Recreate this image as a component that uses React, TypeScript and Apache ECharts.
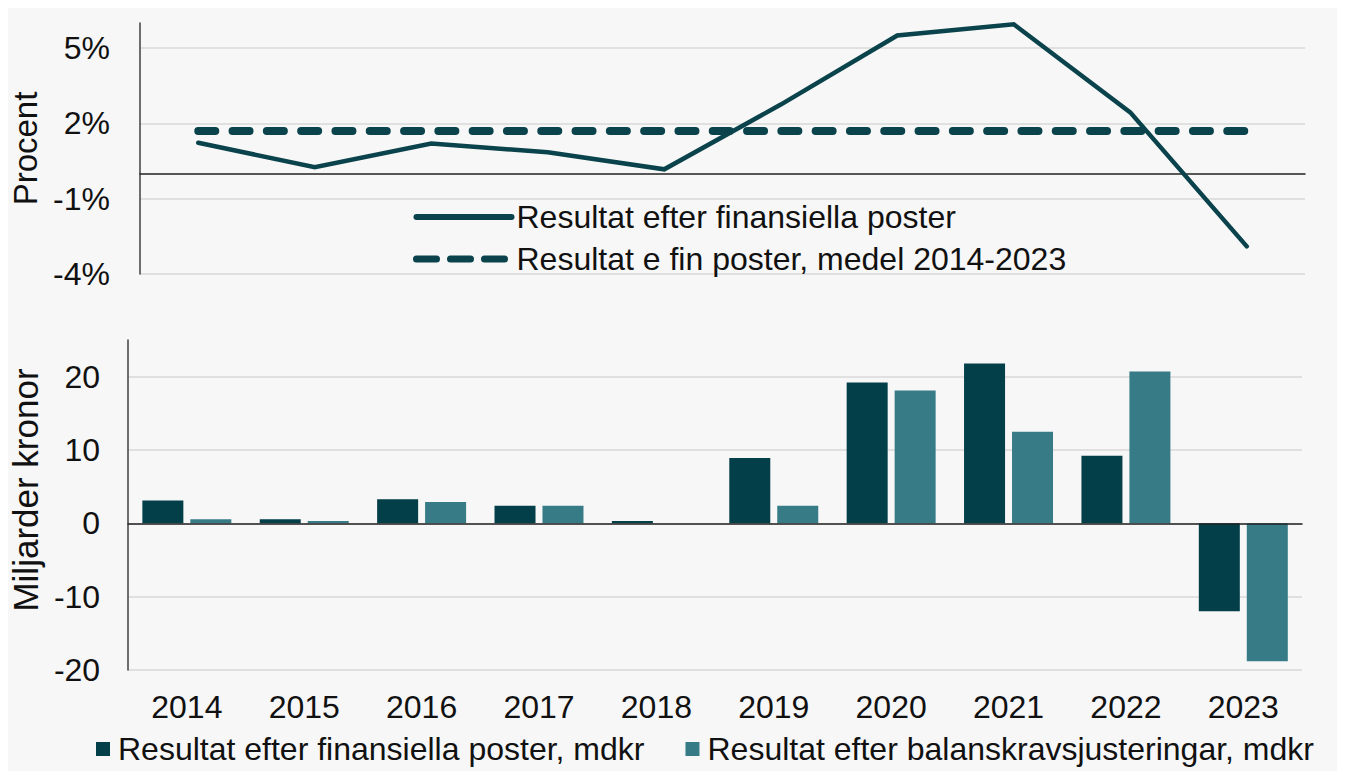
import React, { useEffect, useRef } from "react";
import * as echarts from "echarts";

const years = ["2014", "2015", "2016", "2017", "2018", "2019", "2020", "2021", "2022", "2023"];
const resultPct = [1.23, 0.25, 1.2, 0.85, 0.17, 2.75, 5.5, 5.95, 2.44, -2.9];
const meanPct = [1.7, 1.7, 1.7, 1.7, 1.7, 1.7, 1.7, 1.7, 1.7, 1.7];
const resultMdkr = [3.1, 0.55, 3.3, 2.4, 0.33, 8.9, 19.2, 21.8, 9.2, -12.0];
const balansMdkr = [0.55, 0.33, 2.9, 2.4, 0.0, 2.4, 18.1, 12.5, 20.7, -18.8];
const pctTicks = [-4, -1, 2, 5];
const mdkrTicks = [-20, -10, 0, 10, 20];

const nameLine = "Resultat efter finansiella poster";
const nameMean = "Resultat e fin poster, medel 2014-2023";
const nameBar1 = "Resultat efter finansiella poster, mdkr";
const nameBar2 = "Resultat efter balanskravsjusteringar, mdkr";

const FONT = "'Liberation Sans', Arial, sans-serif";
const FS = 32;
const TXT = "#111111";
const GRID = "#d9d9d9";
const AXIS = "#404040";
const DARK = "#033f48";
const LIGHT = "#367b86";
const LINE = "#0a434b";

export default function App() {
  const ref = useRef<HTMLDivElement>(null);
  useEffect(() => {
    if (!ref.current) return;
    const chart = echarts.init(ref.current, null, { renderer: "svg" });
    chart.setOption({
      animation: false,
      backgroundColor: "#e0efec",
      textStyle: { fontFamily: FONT, color: TXT },
      graphic: [
        {
          type: "rect",
          z: -10,
          shape: { x: 6, y: 5, width: 1339, height: 774 },
          style: { fill: "#f7f7f7" },
        },
      ],
      legend: [
        {
          orient: "vertical",
          left: 413,
          top: 201,
          padding: 0,
          itemWidth: 95,
          itemHeight: 2,
          itemGap: 10,
          textStyle: { fontSize: FS, color: TXT, fontFamily: FONT, lineHeight: 30 },
          data: [
            { name: nameLine, lineStyle: { width: 6, cap: "round" } },
            { name: nameMean, lineStyle: { width: 7, type: [20, 14], cap: "round" } },
          ],
        },
        {
          orient: "horizontal",
          left: 96,
          top: 733,
          padding: 0,
          itemWidth: 14,
          itemHeight: 14,
          itemGap: 41,
          icon: "rect",
          textStyle: { fontSize: FS, color: TXT, fontFamily: FONT, padding: [0, 0, 0, 3] },
          data: [nameBar1, nameBar2],
        },
      ],
      grid: [
        { left: 140, right: 40, top: 23, height: 251 },
        { left: 115, right: 43, top: 340, height: 330 },
      ],
      xAxis: [
        {
          type: "category",
          gridIndex: 0,
          data: years,
          boundaryGap: true,
          axisLine: { onZero: true, lineStyle: { color: "#222", width: 1.5 } },
          axisTick: { show: false },
          axisLabel: { show: false },
        },
        {
          type: "category",
          gridIndex: 1,
          data: years,
          position: "top",
          axisLine: { onZero: true, lineStyle: { color: "#222", width: 1.5 } },
          axisTick: { show: false },
          axisLabel: { show: false },
          z: 5,
        },
        {
          type: "category",
          gridIndex: 1,
          data: years,
          position: "bottom",
          axisLine: { show: false, onZero: false },
          axisTick: { show: false },
          axisLabel: { fontSize: FS, color: TXT, margin: 21, fontFamily: FONT },
        },
      ],
      yAxis: [
        {
          type: "value",
          gridIndex: 0,
          min: -4,
          max: 6,
          interval: 1,
          name: "Procent",
          nameLocation: "middle",
          nameGap: 91,
          nameTextStyle: { fontSize: 33, color: TXT, fontFamily: FONT },
          axisLine: { show: true, lineStyle: { color: AXIS, width: 1.5 } },
          axisTick: { show: false },
          axisLabel: {
            fontSize: FS,
            color: TXT,
            margin: 30,
            fontFamily: FONT,
            formatter: (v: number) => (pctTicks.includes(v) ? v + "%" : ""),
          },
          splitLine: {
            show: true,
            lineStyle: { color: [GRID, "transparent", "transparent"], width: 1.5 },
          },
        },
        {
          type: "value",
          gridIndex: 1,
          min: -20,
          max: 25,
          interval: 10,
          name: "Miljarder kronor",
          nameLocation: "middle",
          nameGap: 57,
          nameTextStyle: {
            fontSize: 35,
            color: TXT,
            fontFamily: FONT,
            padding: [0, 0, 0, 30],
          },
          axisLine: { show: true, lineStyle: { color: AXIS, width: 1.5 } },
          axisTick: { show: false },
          axisLabel: {
            fontSize: FS,
            color: TXT,
            margin: 28,
            fontFamily: FONT,
            formatter: (v: number) => (mdkrTicks.includes(v) ? String(v) : ""),
          },
          splitLine: {
            show: true,
            lineStyle: { color: [GRID, GRID, GRID, GRID, GRID, "transparent"], width: 1.5 },
          },
        },
      ],
      series: [
        {
          name: nameLine,
          type: "line",
          xAxisIndex: 0,
          yAxisIndex: 0,
          data: resultPct,
          symbol: "none",
          color: LINE,
          lineStyle: { color: LINE, width: 4.5, cap: "round", join: "miter" },
          z: 4,
        },
        {
          name: nameMean,
          type: "line",
          xAxisIndex: 0,
          yAxisIndex: 0,
          data: meanPct,
          symbol: "none",
          color: LINE,
          lineStyle: { color: LINE, width: 8, type: [17, 17.3], cap: "round" },
          z: 3,
        },
        {
          name: nameBar1,
          type: "bar",
          xAxisIndex: 1,
          yAxisIndex: 1,
          data: resultMdkr,
          barWidth: 41,
          barGap: "17%",
          itemStyle: { color: DARK },
        },
        {
          name: nameBar2,
          type: "bar",
          xAxisIndex: 1,
          yAxisIndex: 1,
          data: balansMdkr,
          barWidth: 41,
          barGap: "17%",
          itemStyle: { color: LIGHT },
        },
      ],
    });
    return () => chart.dispose();
  }, []);
  return (
    <div style={{ margin: -8 }}>
      <div ref={ref} style={{ width: 1345, height: 779 }} />
    </div>
  );
}
